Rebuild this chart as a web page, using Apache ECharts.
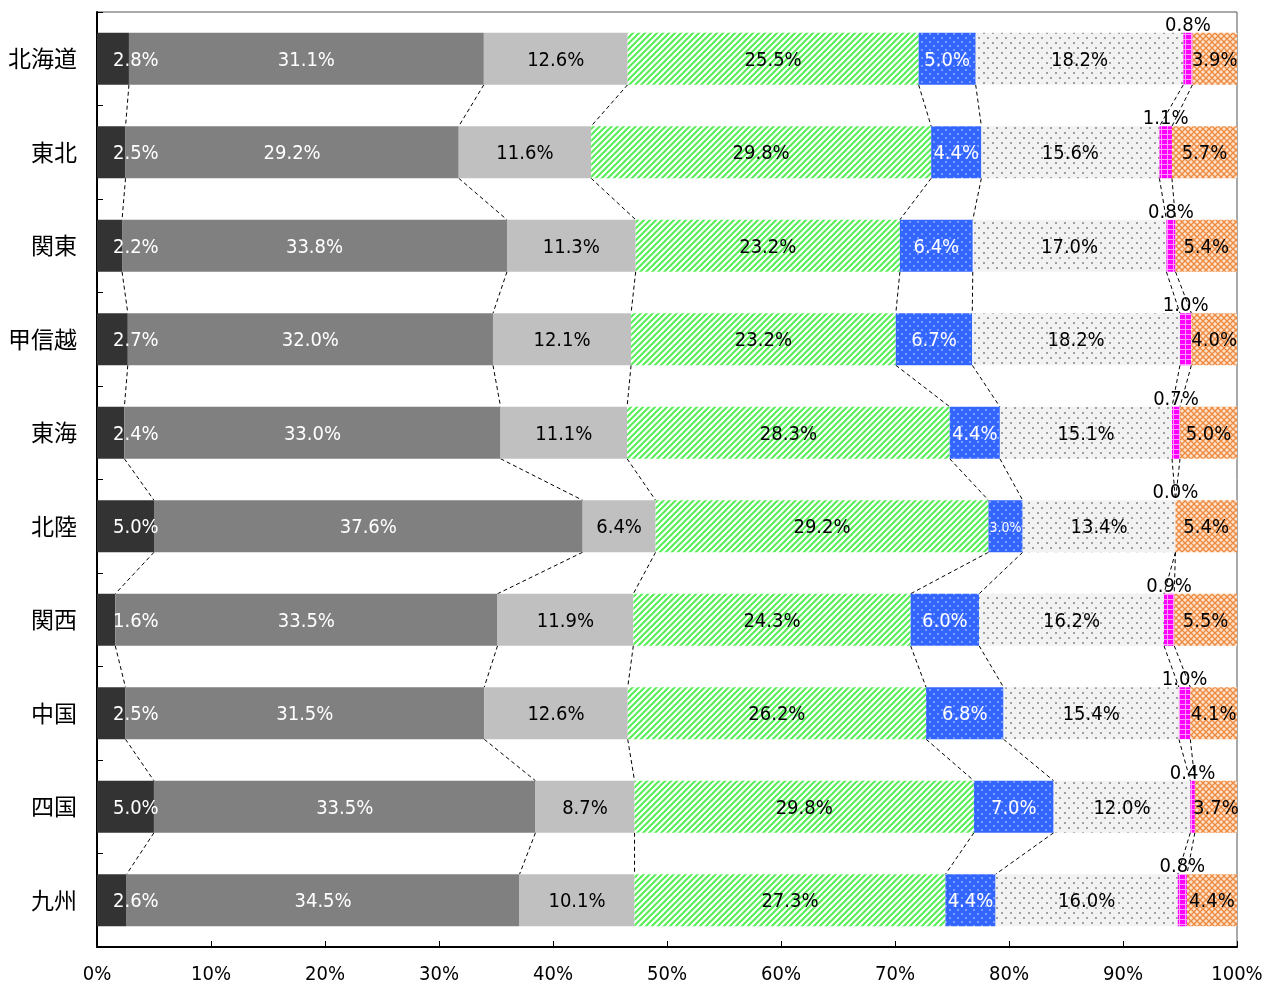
<!DOCTYPE html>
<html><head><meta charset="utf-8">
<script src="https://cdn.jsdelivr.net/npm/echarts@6/dist/echarts.min.js"></script>
<style>html,body{margin:0;padding:0;background:#fff}#c{width:1271px;height:985px}</style>
</head><body><div id="c"></div>
<script>
const categories = ['北海道','東北','関東','甲信越','東海','北陸','関西','中国','四国','九州'];
const s1 = [2.8, 2.5, 2.2, 2.7, 2.4, 5.0, 1.6, 2.5, 5.0, 2.6];
const s2 = [31.1, 29.2, 33.8, 32.0, 33.0, 37.6, 33.5, 31.5, 33.5, 34.5];
const s3 = [12.6, 11.6, 11.3, 12.1, 11.1, 6.4, 11.9, 12.6, 8.7, 10.1];
const s4 = [25.5, 29.8, 23.2, 23.2, 28.3, 29.2, 24.3, 26.2, 29.8, 27.3];
const s5 = [5.0, 4.4, 6.4, 6.7, 4.4, 3.0, 6.0, 6.8, 7.0, 4.4];
const s6 = [18.2, 15.6, 17.0, 18.2, 15.1, 13.4, 16.2, 15.4, 12.0, 16.0];
const s7 = [0.8, 1.1, 0.8, 1.0, 0.7, 0.0, 0.9, 1.0, 0.4, 0.8];
const s8 = [3.9, 5.7, 5.4, 4.0, 5.0, 5.4, 5.5, 4.1, 3.7, 4.4];
const xTicks = [0,10,20,30,40,50,60,70,80,90,100];

const seriesVals = [s1,s2,s3,s4,s5,s6,s7,s8];
const rowSums = categories.map((_, i) => seriesVals.reduce((a, s) => a + s[i], 0));
const norm = seriesVals.map(s => s.map((v, i) => v / rowSums[i] * 100));

function pat(w, h, draw) {
  const c = document.createElement('canvas'); c.width = w; c.height = h;
  const ctx = c.getContext('2d'); draw(ctx, w, h);
  return { image: c, repeat: 'repeat' };
}
const green = pat(6, 6, (ctx) => {
  ctx.fillStyle = '#ffffff'; ctx.fillRect(0,0,6,6);
  ctx.strokeStyle = '#55ee55'; ctx.lineWidth = 2;
  [[-6,6,6,-6],[0,6,6,0],[0,12,12,0]].forEach(l => { ctx.beginPath(); ctx.moveTo(l[0],l[1]); ctx.lineTo(l[2],l[3]); ctx.stroke(); });
});
const blue = pat(8, 8, (ctx) => {
  ctx.fillStyle = '#3366ff'; ctx.fillRect(0,0,8,8);
  ctx.fillStyle = '#7a9cff'; ctx.fillRect(1,1,2,2); ctx.fillRect(5,5,2,2);
});
const greyDot = pat(9, 10, (ctx) => {
  ctx.fillStyle = '#f2f2f2'; ctx.fillRect(0,0,9,10);
  ctx.fillStyle = '#a0a0a0'; ctx.fillRect(2,2,2,2); ctx.fillRect(6,7,2,2);
});
const magenta = pat(6, 5, (ctx) => {
  ctx.fillStyle = '#ff00ff'; ctx.fillRect(0,0,6,5);
  ctx.fillStyle = '#ff99ff'; ctx.fillRect(0,4,6,1); ctx.fillRect(3,0,1,5);
});
const orange = pat(6, 6, (ctx) => {
  ctx.fillStyle = '#fde2cc'; ctx.fillRect(0,0,6,6);
  ctx.strokeStyle = '#ee8a40'; ctx.lineWidth = 1.3;
  [[0,0,6,6],[0,6,6,0],[-3,3,3,-3],[3,9,9,3],[-3,3,3,9],[3,-3,9,3]].forEach(l => { ctx.beginPath(); ctx.moveTo(l[0],l[1]); ctx.lineTo(l[2],l[3]); ctx.stroke(); });
});

const fills = ['#333333', '#808080', '#c0c0c0', green, blue, greyDot, magenta, orange];
const labelColors = ['#fff','#fff','#000','#000','#fff','#000','#000','#000'];
const NUMFONT = '"DejaVu Sans Condensed", sans-serif';
const CJKFONT = '"Noto Sans CJK JP"';
const BAR_W = 52;

const barSeries = norm.map((arr, k) => ({
  type: 'bar', stack: 'all', barWidth: BAR_W, z: 2,
  itemStyle: { color: fills[k] },
  label: {
    show: true,
    position: k === 6 ? 'top' : (k === 0 ? 'insideLeft' : 'inside'),
    distance: k === 0 ? 16 : (k === 6 ? -3 : 0),
    offset: k === 6 ? [0, 0] : [0, 2],
    color: labelColors[k], fontSize: 20, fontFamily: NUMFONT,
    formatter: p => seriesVals[k][p.dataIndex].toFixed(1) + '%'
  },
  emphasis: { disabled: true },
  data: arr.map((v, i) => {
    const item = { value: v };
    if (k === 4 && seriesVals[k][i] < 3.5) item.label = { fontSize: 14 };
    return item;
  })
}));

// connector data: cumulative boundary positions between consecutive rows
const connectors = [];
for (let i = 0; i < categories.length - 1; i++) {
  let ca = 0, cb = 0;
  for (let k = 0; k < 7; k++) {
    ca += norm[k][i]; cb += norm[k][i + 1];
    connectors.push([ca, i, cb, i + 1]);
  }
}

const option = {
  animation: false,
  grid: { left: 97, right: 34, top: 12, bottom: 33, show: true, borderColor: '#555', borderWidth: 1, containLabel: false },
  xAxis: {
    type: 'value', min: 0, max: 100, interval: 10,
    axisLine: { show: true, lineStyle: { color: '#000', width: 2 } },
    axisTick: { show: true, inside: true, length: 6, lineStyle: { color: '#000' } },
    splitLine: { show: false },
    axisLabel: { fontSize: 20, fontFamily: NUMFONT, color: '#000', margin: 18,
      formatter: v => xTicks.includes(v) ? v + '%' : '' }
  },
  yAxis: {
    type: 'category', data: categories, inverse: true,
    axisLine: { show: true, lineStyle: { color: '#000', width: 2 } },
    axisTick: { show: true, inside: true, length: 6, lineStyle: { color: '#000' } },
    axisLabel: { fontSize: 23, fontFamily: CJKFONT, color: '#000', margin: 20 }
  },
  series: barSeries.concat([{
    type: 'custom', z: 1, silent: true,
    encode: { x: [0, 2], y: [1, 3] },
    data: connectors,
    renderItem: (params, api) => {
      const p1 = api.coord([api.value(0), api.value(1)]);
      const p2 = api.coord([api.value(2), api.value(3)]);
      return {
        type: 'line',
        shape: { x1: p1[0], y1: p1[1] + BAR_W / 2, x2: p2[0], y2: p2[1] - BAR_W / 2 },
        style: { stroke: '#000', lineWidth: 1, lineDash: [4, 3] }
      };
    }
  }])
};
const chart = echarts.init(document.getElementById('c'));
chart.setOption(option);
</script></body></html>
